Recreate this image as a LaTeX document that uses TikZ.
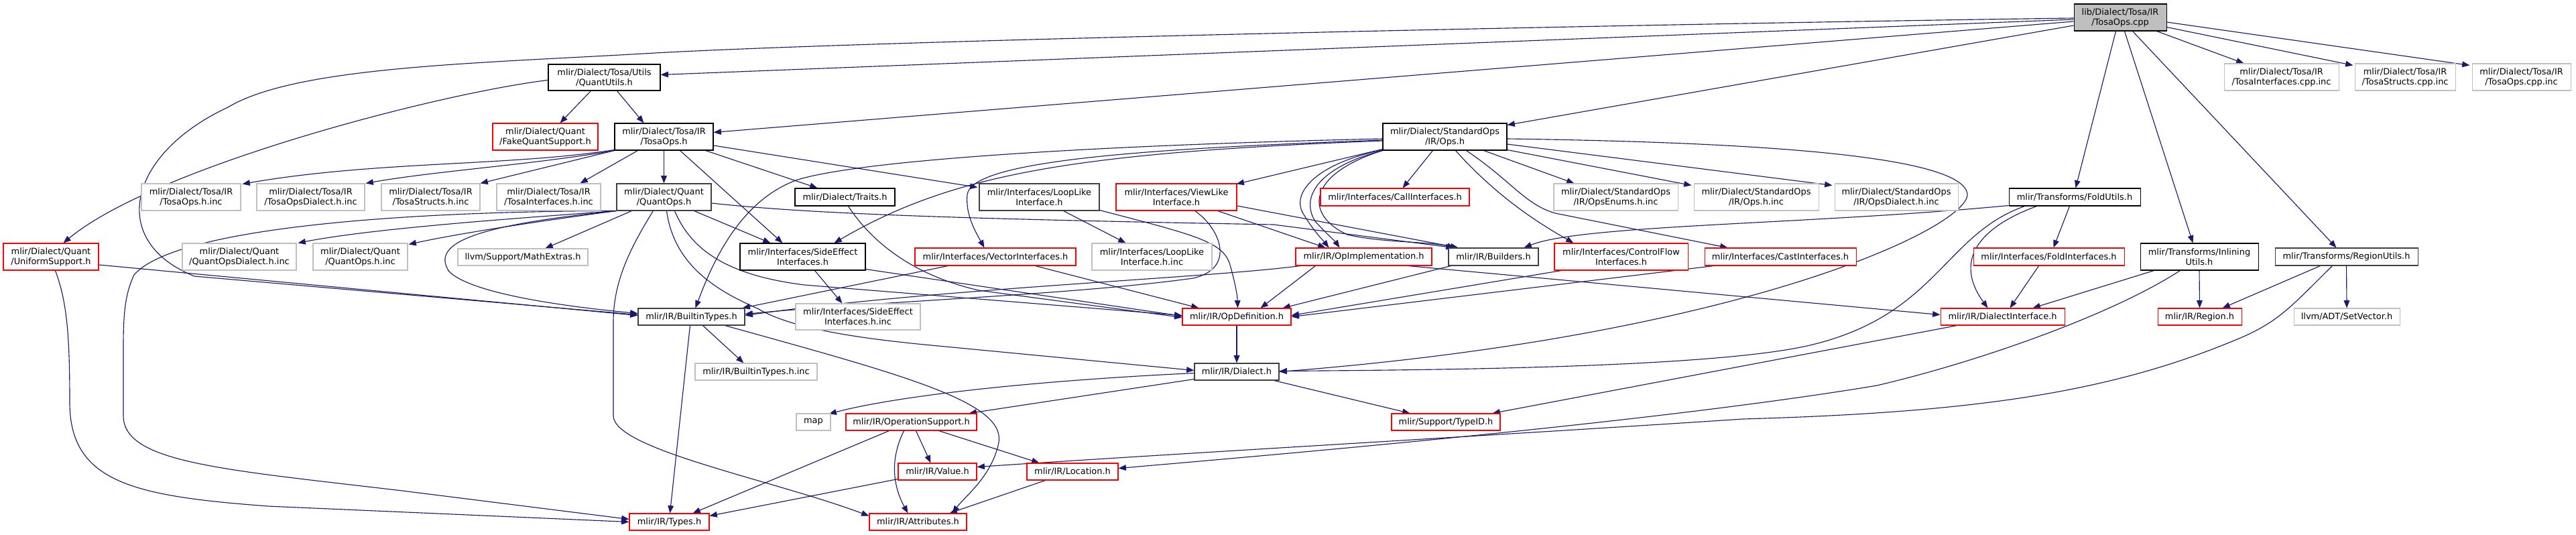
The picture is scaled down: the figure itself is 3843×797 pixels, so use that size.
\documentclass[tikz,border=0pt]{standalone}
\usepackage{fontspec}
\setmainfont{DejaVu Sans}
\usetikzlibrary{arrows.meta,calc}
\definecolor{edgec}{HTML}{191970}
\definecolor{greyL}{HTML}{BFBFBF}
\definecolor{greyD}{HTML}{404040}
\definecolor{nodered}{HTML}{FF0000}
\pgfdeclarelayer{bg}
\pgfsetlayers{bg,main}
\tikzset{
 box/.style={rectangle, inner sep=0pt, align=center, line width=0.8pt, font=\fontsize{9.7pt}{11.25pt}\selectfont, text=black, fill=white},
 bk/.style={box, draw=black},
 dk/.style={box, draw=greyD},
 rd/.style={box, draw=nodered},
 gy/.style={box, draw=greyL},
 rootbox/.style={box, draw=black, fill=greyL},
 dep/.style={draw=edgec, line width=0.85pt, -{Triangle[length=8.5pt,width=6.5pt]}},
}
\newcommand\mkbox[7]{\node[#2, minimum width={(#5-#3)*0.75pt}, minimum height={(#6-#4)*0.75pt}] (#1) at ({(#3+#5)/2},{(#4+#6)/2}) {#7};}
\begin{document}
\begin{tikzpicture}[x=0.75pt,y=-0.75pt]
\useasboundingbox (0,0) rectangle (3843,797);
\mkbox{cpp}{rootbox}{3094}{6}{3232}{46}{lib/Dialect/Tosa/IR\\/TosaOps.cpp}
\mkbox{qutil}{bk}{818}{96}{985}{135}{mlir/Dialect/Tosa/Utils\\/QuantUtils.h}
\mkbox{tiic}{gy}{3318}{95}{3489}{135}{mlir/Dialect/Tosa/IR\\/TosaInterfaces.cpp.inc}
\mkbox{tscpp}{gy}{3513}{95}{3663}{135}{mlir/Dialect/Tosa/IR\\/TosaStructs.cpp.inc}
\mkbox{tocpp}{gy}{3688}{95}{3835}{135}{mlir/Dialect/Tosa/IR\\/TosaOps.cpp.inc}
\mkbox{fq}{rd}{735}{184}{892}{224}{mlir/Dialect/Quant\\/FakeQuantSupport.h}
\mkbox{tosah}{bk}{917}{184}{1064}{224}{mlir/Dialect/Tosa/IR\\/TosaOps.h}
\mkbox{stdops}{bk}{2063}{184}{2248}{224}{mlir/Dialect/StandardOps\\/IR/Ops.h}
\mkbox{tohinc}{gy}{211}{274}{359}{314}{mlir/Dialect/Tosa/IR\\/TosaOps.h.inc}
\mkbox{todinc}{gy}{383}{274}{544}{314}{mlir/Dialect/Tosa/IR\\/TosaOpsDialect.h.inc}
\mkbox{tsinc}{gy}{569}{274}{716}{314}{mlir/Dialect/Tosa/IR\\/TosaStructs.h.inc}
\mkbox{tiinc}{gy}{741}{274}{896}{314}{mlir/Dialect/Tosa/IR\\/TosaInterfaces.h.inc}
\mkbox{qops}{dk}{920}{274}{1061}{314}{mlir/Dialect/Quant\\/QuantOps.h}
\mkbox{traits}{bk}{1186}{281}{1335}{307}{mlir/Dialect/Traits.h}
\mkbox{loop}{dk}{1461}{274}{1640}{314}{mlir/Interfaces/LoopLike\\Interface.h}
\mkbox{view}{rd}{1665}{274}{1845}{314}{mlir/Interfaces/ViewLike\\Interface.h}
\mkbox{call}{rd}{1970}{281}{2192}{307}{mlir/Interfaces/CallInterfaces.h}
\mkbox{enums}{gy}{2318}{274}{2503}{314}{mlir/Dialect/StandardOps\\/IR/OpsEnums.h.inc}
\mkbox{opsinc}{gy}{2527}{274}{2713}{314}{mlir/Dialect/StandardOps\\/IR/Ops.h.inc}
\mkbox{opsdinc}{gy}{2737}{274}{2921}{314}{mlir/Dialect/StandardOps\\/IR/OpsDialect.h.inc}
\mkbox{fold}{bk}{2997}{281}{3193}{307}{mlir/Transforms/FoldUtils.h}
\mkbox{uni}{rd}{5}{363}{147}{403}{mlir/Dialect/Quant\\/UniformSupport.h}
\mkbox{qdinc}{gy}{272}{363}{442}{403}{mlir/Dialect/Quant\\/QuantOpsDialect.h.inc}
\mkbox{qinc}{gy}{467}{363}{608}{403}{mlir/Dialect/Quant\\/QuantOps.h.inc}
\mkbox{math}{gy}{683}{371}{877}{396}{llvm/Support/MathExtras.h}
\mkbox{side}{bk}{1104}{363}{1291}{403}{mlir/Interfaces/SideEffect\\Interfaces.h}
\mkbox{vec}{rd}{1365}{370}{1605}{396}{mlir/Interfaces/VectorInterfaces.h}
\mkbox{loopinc}{gy}{1629}{363}{1808}{403}{mlir/Interfaces/LoopLike\\Interface.h.inc}
\mkbox{opimpl}{rd}{1933}{370}{2136}{396}{mlir/IR/OpImplementation.h}
\mkbox{build}{dk}{2161}{370}{2295}{396}{mlir/IR/Builders.h}
\mkbox{cf}{rd}{2319}{363}{2518}{403}{mlir/Interfaces/ControlFlow\\Interfaces.h}
\mkbox{cast}{rd}{2543}{370}{2769}{396}{mlir/Interfaces/CastInterfaces.h}
\mkbox{foldi}{rd}{2944}{370}{3169}{396}{mlir/Interfaces/FoldInterfaces.h}
\mkbox{inl}{bk}{3193}{363}{3369}{403}{mlir/Transforms/Inlining\\Utils.h}
\mkbox{reg}{dk}{3394}{370}{3607}{396}{mlir/Transforms/RegionUtils.h}
\mkbox{bt}{dk}{952}{460}{1111}{485}{mlir/IR/BuiltinTypes.h}
\mkbox{sideinc}{gy}{1187}{453}{1373}{492}{mlir/Interfaces/SideEffect\\Interfaces.h.inc}
\mkbox{opdef}{rd}{1764}{460}{1926}{485}{mlir/IR/OpDefinition.h}
\mkbox{di}{rd}{2895}{460}{3080}{485}{mlir/IR/DialectInterface.h}
\mkbox{region}{rd}{3219}{460}{3344}{485}{mlir/IR/Region.h}
\mkbox{setv}{gy}{3422}{460}{3580}{485}{llvm/ADT/SetVector.h}
\mkbox{btinc}{gy}{1037}{542}{1219}{567}{mlir/IR/BuiltinTypes.h.inc}
\mkbox{dialect}{dk}{1782}{542}{1908}{567}{mlir/IR/Dialect.h}
\mkbox{map}{gy}{1188}{617}{1239}{642}{map}
\mkbox{opsup}{rd}{1262}{617}{1457}{642}{mlir/IR/OperationSupport.h}
\mkbox{typeid}{rd}{2076}{617}{2238}{642}{mlir/Support/TypeID.h}
\mkbox{value}{rd}{1340}{691}{1457}{716}{mlir/IR/Value.h}
\mkbox{loc}{rd}{1532}{691}{1668}{716}{mlir/IR/Location.h}
\mkbox{types}{rd}{939}{766}{1058}{791}{mlir/IR/Types.h}
\mkbox{attr}{rd}{1297}{766}{1442}{791}{mlir/IR/Attributes.h}
\begin{pgfonlayer}{bg}
\fill[white] (0,0) rectangle (3843,797);
% root
\draw[dep] ($(cpp.west)+(0,1)$) .. controls (2500,35) and (1300,60) .. (960,80) .. controls (700,95) and (440,100) .. (340,160) .. controls (190,230) and (160,360) .. (290,412) -- ($(bt.west)+(0,-3)$);
\draw[dep] ($(cpp.west)+(0,3)$) -- ($(qutil.east)+(0,-4)$);
\draw[dep] ($(cpp.west)+(0,6)$) -- ($(tosah.north east)+(0,14)$);
\draw[dep] ($(cpp.west)+(0,12)$) -- ($(stdops.north east)+(0,3)$);
\draw[dep] ($(cpp.south west)+(63,0)$) -- ($(fold.north west)+(100,0)$);
\draw[dep] ($(cpp.south west)+(76,0)$) -- ($(inl.north west)+(79,0)$);
\draw[dep] ($(cpp.south west)+(88,0)$) -- ($(reg.north west)+(92,0)$);
\draw[dep] ($(cpp.south east)+(-15,0)$) -- ($(tiic.north west)+(30,0)$);
\draw[dep] ($(cpp.south east)+(0,-6)$) -- ($(tscpp.north west)+(-2,3)$);
\draw[dep] ($(cpp.east)+(0,7)$) -- ($(tocpp.north west)+(-3,3)$);
% QuantUtils
\draw[dep] ($(qutil.south west)+(64,0)$) -- ($(fq.north west)+(101,0)$);
\draw[dep] ($(qutil.south west)+(103,0)$) -- ($(tosah.north west)+(44,0)$);
\draw[dep] ($(qutil.west)+(0,4)$) .. controls (650,140) and (230,250) .. ($(uni.north west)+(90,0)$);
% TosaOps.h
\draw[dep] ($(tosah.south west)+(0,-1)$) .. controls (760,248) and (560,240) .. ($(tohinc.north east)+(2,1)$);
\draw[dep] (tosah.south west) .. controls (800,245) and (650,255) .. ($(todinc.north east)+(1,0)$);
\draw[dep] (tosah.south west) -- (tsinc.north east);
\draw[dep] ($(tosah.south west)+(35,0)$) -- ($(tiinc.north west)+(125,0)$);
\draw[dep] ($(tosah.south west)+(74,0)$) -- ($(qops.north west)+(71,0)$);
\draw[dep] ($(tosah.south west)+(98,0)$) -- ($(side.north west)+(64,0)$);
\draw[dep] ($(tosah.south east)+(-12,0)$) -- ($(traits.north west)+(34,0)$);
\draw[dep] ($(tosah.east)+(0,13)$) -- ($(loop.north west)+(-2,6)$);
% StandardOps Ops.h
\draw[dep] ($(stdops.west)+(0,3)$) .. controls (1700,215) and (1300,235) .. (1190,268) .. controls (1100,300) and (1060,400) .. ($(bt.north west)+(86,0)$);
\draw[dep] ($(stdops.west)+(0,6)$) .. controls (1600,228) and (1420,260) .. ($(side.north west)+(141,0)$);
\draw[dep] ($(stdops.west)+(0,5)$) .. controls (1700,222) and (1450,240) .. (1443,290) .. controls (1440,320) and (1455,345) .. ($(vec.north west)+(104,0)$);
\draw[dep] ($(stdops.south west)+(0,-2)$) -- ($(view.north east)+(-1,1)$);
\draw[dep] ($(stdops.south west)+(0,-1)$) .. controls (1960,245) and (1925,290) .. (1945,320) .. controls (1960,345) and (1975,360) .. ($(opimpl.north west)+(50,0)$);
\draw[dep] (stdops.south west) .. controls (1965,250) and (1940,295) .. (1962,330) .. controls (1980,350) and (1992,360) .. ($(opimpl.north west)+(66,0)$);
\draw[dep] (stdops.south west) .. controls (1950,260) and (1945,320) .. (2010,350) .. controls (2060,362) and (2130,360) .. ($(build.north west)+(10,0)$);
\draw[dep] ($(stdops.south west)+(75,0)$) -- ($(call.north west)+(123,0)$);
\draw[dep] ($(stdops.south west)+(109,0)$) .. controls (2230,290) and (2290,330) .. ($(cf.north west)+(29,0)$);
\draw[dep] ($(stdops.south west)+(125,0)$) .. controls (2255,270) and (2275,305) .. (2320,318) -- ($(cast.north west)+(35,0)$);
\draw[dep] ($(stdops.south west)+(151,0)$) -- ($(enums.north west)+(31,0)$);
\draw[dep] ($(stdops.south east)+(0,-1)$) -- ($(opsinc.north west)+(-3,3)$);
\draw[dep] ($(stdops.east)+(0,11)$) -- ($(opsdinc.north west)+(-3,3)$);
\draw[dep] ($(stdops.east)+(0,3)$) .. controls (2600,212) and (2930,230) .. (2935,290) .. controls (2935,340) and (2600,500) .. (dialect.east);
% QuantOps.h
\draw[dep] (qops.south west) .. controls (600,315) and (260,340) .. (200,410) .. controls (186,440) and (184,470) .. (184,520) -- (184,620) .. controls (184,690) and (330,700) .. (600,732) -- ($(types.west)+(0,-4)$);
\draw[dep] (qops.south west) .. controls (720,335) and (640,360) .. (670,405) .. controls (700,435) and (820,455) .. ($(bt.west)+(0,-5)$);
\draw[dep] (qops.south west) .. controls (780,325) and (560,340) .. ($(qdinc.north east)+(2,0)$);
\draw[dep] (qops.south west) .. controls (840,325) and (700,345) .. ($(qinc.north east)+(1,2)$);
\draw[dep] ($(qops.south west)+(23,0)$) -- ($(math.north west)+(131,0)$);
\draw[dep] ($(qops.south west)+(55,0)$) .. controls (940,370) and (915,420) .. (915,480) -- (915,620) .. controls (915,670) and (1150,715) .. ($(attr.north west)+(0,4)$);
\draw[dep] ($(qops.south west)+(75,0)$) .. controls (1005,390) and (1060,430) .. (1130,460) .. controls (1180,490) and (1280,505) .. (1400,516) -- ($(dialect.west)+(0,-2)$);
\draw[dep] ($(qops.south west)+(87,0)$) .. controls (1030,370) and (1080,410) .. (1200,425) -- ($(opdef.west)+(0,-2)$);
\draw[dep] ($(qops.south west)+(116,0)$) -- ($(side.north west)+(46,0)$);
\draw[dep] ($(qops.east)+(0,9)$) .. controls (1200,318) and (1400,326) .. (1900,335) -- ($(build.north west)+(8,0)$);
% SideEffect, Traits, LoopLike, ViewLike, Vector
\draw[dep] ($(side.south west)+(112,0)$) -- ($(sideinc.north west)+(70,0)$);
\draw[dep] ($(side.south east)+(0,-2)$) -- ($(opdef.west)+(0,-1)$);
\draw[dep] ($(traits.south west)+(80,0)$) .. controls (1300,360) and (1360,410) .. (1460,433) -- ($(opdef.west)+(0,1)$);
\draw[dep] ($(loop.south west)+(126,0)$) -- ($(loopinc.north west)+(51,0)$);
\draw[dep] ($(loop.south east)+(0,-1)$) .. controls (1780,350) and (1825,360) .. (1835,395) .. controls (1842,420) and (1846,440) .. ($(opdef.north west)+(83,0)$);
\draw[dep] ($(view.south west)+(118,0)$) .. controls (1820,340) and (1845,400) .. (1780,415) .. controls (1600,440) and (1300,450) .. ($(bt.east)+(0,-4)$);
\draw[dep] ($(view.east)+(0,13)$) -- ($(build.north west)+(15,0)$);
\draw[dep] ($(view.south west)+(152,0)$) -- ($(opimpl.north west)+(45,0)$);
\draw[dep] ($(vec.south west)+(50,0)$) -- ($(bt.north east)+(-4,0)$);
\draw[dep] ($(vec.south west)+(180,0)$) -- ($(opdef.north west)+(25,0)$);
% OpImplementation, Builders, ControlFlow, Cast
\draw[dep] ($(opimpl.south west)+(7,0)$) .. controls (1800,415) and (1400,430) .. ($(bt.east)+(0,-2)$);
\draw[dep] ($(opimpl.south west)+(30,0)$) -- ($(opdef.north east)+(-46,0)$);
\draw[dep] ($(opimpl.south east)+(-36,0)$) -- ($(di.west)+(0,-3)$);
\draw[dep] ($(build.south west)+(4,0)$) -- ($(opdef.north east)+(-13,0)$);
\draw[dep] ($(cf.south west)+(11,0)$) -- ($(opdef.east)+(0,-2)$);
\draw[dep] ($(cast.south west)+(14,0)$) -- (opdef.east);
% FoldUtils, FoldInterfaces, Inlining, RegionUtils
\draw[dep] ($(fold.south west)+(91,0)$) -- ($(foldi.north west)+(120,0)$);
\draw[dep] ($(fold.south west)+(0,-1)$) .. controls (2700,335) and (2360,335) .. ($(build.north east)+(-22,0)$);
\draw[dep] ($(fold.south west)+(42,0)$) .. controls (2950,340) and (2915,390) .. ($(di.north west)+(71,0)$);
\draw[dep] ($(fold.south west)+(24,0)$) .. controls (2900,350) and (2890,470) .. (2700,515) .. controls (2550,550) and (2100,552) .. ($(dialect.east)+(0,-1)$);
\draw[dep] ($(foldi.south west)+(98,0)$) -- ($(di.north west)+(104,0)$);
\draw[dep] ($(inl.south west)+(21,0)$) -- ($(di.north west)+(138,0)$);
\draw[dep] (inl.south) -- (region.north);
\draw[dep] ($(inl.south west)+(60,0)$) .. controls (3150,470) and (2950,540) .. (2800,575) .. controls (2500,625) and (2000,670) .. ($(loc.east)+(0,-5)$);
\draw[dep] ($(reg.south west)+(68,0)$) -- ($(region.north east)+(-29,0)$);
\draw[dep] (reg.south) -- (setv.north);
\draw[dep] ($(reg.south west)+(86,0)$) .. controls (3420,455) and (3400,480) .. (3340,505) .. controls (3150,585) and (2950,615) .. (2600,625) .. controls (2300,645) and (1700,680) .. ($(value.east)+(0,-7)$);
% DialectInterface, OpDefinition, Dialect
\draw[dep] ($(di.south west)+(25,0)$) -- ($(typeid.north east)+(-12,0)$);
\draw[dep] (opdef.south) -- (dialect.north);
\draw[dep] ($(dialect.west)+(0,2)$) .. controls (1500,570) and (1320,595) .. ($(map.north east)+(-3,1)$);
\draw[dep] ($(dialect.south west)+(0,-2)$) -- ($(opsup.north east)+(-12,0)$);
\draw[dep] ($(dialect.south east)+(-8,0)$) -- ($(typeid.north west)+(28,0)$);
% OperationSupport, Value, Location
\draw[dep] ($(opsup.south west)+(65,0)$) -- ($(types.north east)+(-25,0)$);
\draw[dep] ($(opsup.south west)+(87,0)$) .. controls (1325,690) and (1335,730) .. ($(attr.north west)+(58,0)$);
\draw[dep] ($(opsup.south west)+(105,0)$) -- ($(value.north west)+(49,0)$);
\draw[dep] ($(opsup.south west)+(139,0)$) -- ($(loc.north west)+(19,0)$);
\draw[dep] ($(value.south west)+(0,-2)$) -- ($(types.north east)+(0,4)$);
\draw[dep] ($(loc.south west)+(28,0)$) -- ($(attr.north east)+(-26,0)$);
% BuiltinTypes
\draw[dep] ($(bt.south west)+(78,0)$) -- ($(types.north west)+(61,0)$);
\draw[dep] ($(bt.south west)+(97,0)$) -- ($(btinc.north west)+(73,0)$);
\draw[dep] ($(bt.south west)+(130,0)$) .. controls (1350,560) and (1500,600) .. (1490,660) .. controls (1480,710) and (1440,740) .. ($(attr.north east)+(-22,0)$);
% UniformSupport
\draw[dep] ($(uni.east)+(0,12)$) -- ($(bt.west)+(0,-2)$);
\draw[dep] ($(uni.south west)+(78,0)$) .. controls (100,450) and (104,500) .. (104,600) .. controls (104,720) and (200,740) .. (400,755) -- (types.west);
\end{pgfonlayer}
\end{tikzpicture}
\end{document}
